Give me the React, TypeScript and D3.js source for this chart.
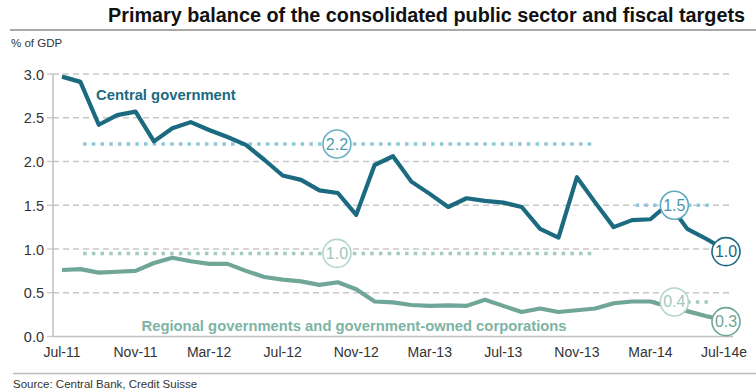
import React from "react";
import * as d3 from "d3";

const months = d3.range(37);
const tickIdx = [0, 4, 8, 12, 16, 20, 24, 28, 32, 36];
const tickLabels = ["Jul-11", "Nov-11", "Mar-12", "Jul-12", "Nov-12", "Mar-13", "Jul-13", "Nov-13", "Mar-14", "Jul-14e"];
const yTicks = [0, 0.5, 1.0, 1.5, 2.0, 2.5, 3.0];

const central = [2.97, 2.91, 2.42, 2.53, 2.57, 2.23, 2.38, 2.45, 2.36, 2.28, 2.19, 2.02, 1.84, 1.79, 1.67, 1.64, 1.39, 1.96, 2.06, 1.77, 1.63, 1.48, 1.58, 1.55, 1.53, 1.48, 1.23, 1.13, 1.82, 1.53, 1.25, 1.33, 1.34, 1.52, 1.23, 1.12, 1.0];
const regional = [0.76, 0.77, 0.73, 0.74, 0.75, 0.84, 0.9, 0.86, 0.83, 0.83, 0.75, 0.68, 0.65, 0.63, 0.59, 0.62, 0.54, 0.4, 0.39, 0.36, 0.35, 0.355, 0.35, 0.42, 0.35, 0.28, 0.32, 0.28, 0.3, 0.32, 0.38, 0.4, 0.4, 0.34, 0.29, 0.235, 0.19];

// fiscal targets: [start month, end month, value, label, label month]
const centralTargets = [
  { x0: 1.15, x1: 28.8, v: 2.2, label: "2.2", lx: 14.95 },
  { x0: 31.2, x1: 35.3, v: 1.5, label: "1.5", lx: 33.3 },
];
const regionalTargets = [
  { x0: 1.15, x1: 28.8, v: 0.95, label: "1.0", lx: 14.95 },
  { x0: 32.1, x1: 35.2, v: 0.395, label: "0.4", lx: 33.3 },
];
const endLabels = [
  { v: 0.97, label: "1.0", series: "central" },
  { v: 0.17, label: "0.3", series: "regional" },
];

const W = 756;
const H = 392;
const FONT = "'Liberation Sans', Arial, sans-serif";
const C_CENTRAL = "#1b6a80";
const C_REGIONAL = "#6fa697";
const C_CT = "#8ec8da";
const C_RT = "#a3cbbd";

export default function App() {
  const x = d3.scaleLinear().domain([0, 36]).range([62, 724]);
  const y = d3.scaleLinear().domain([0, 3]).range([336.5, 74]);
  const line = d3
    .line<number>()
    .x((_, i) => x(months[i]))
    .y((d) => y(d))
    .curve(d3.curveLinear);

  const circle = (cx: number, cy: number, label: string, stroke: string, text: string, key: string) => (
    <g key={key}>
      <circle cx={cx} cy={cy} r={14} fill="#fff" stroke={stroke} strokeWidth={1.6} />
      <text x={cx} y={cy + 5.5} textAnchor="middle" fontSize={16} fill={text} fontFamily={FONT}>
        {label}
      </text>
    </g>
  );

  return (
    <svg width={W} height={H} style={{ position: "absolute", left: 0, top: 0, background: "#fff" }}>
      <text
        x={108}
        y={22}
        fontSize={20}
        fontWeight="bold"
        fill="#111"
        fontFamily={FONT}
        textLength={637}
        lengthAdjust="spacingAndGlyphs"
      >
        Primary balance of the consolidated public sector and fiscal targets
      </text>
      <line x1={10} x2={756} y1={30} y2={30} stroke="#a9a9a9" strokeWidth={2} />
      <text x={11} y={47} fontSize={11.5} fill="#333" fontFamily={FONT}>
        % of GDP
      </text>

      {/* grid */}
      {yTicks.map((t) => (
        <g key={t}>
          {t > 0 && (
            <line x1={53} x2={732} y1={y(t)} y2={y(t)} stroke="#c8c8c8" strokeWidth={1.3} strokeDasharray="6 4" />
          )}
          <line x1={47} x2={53} y1={y(t)} y2={y(t)} stroke="#c8c8c8" strokeWidth={1.3} />
          <text x={44} y={y(t) + 5.5} textAnchor="end" fontSize={14.5} fill="#333" fontFamily={FONT}>
            {t.toFixed(1)}
          </text>
        </g>
      ))}
      <line x1={53} x2={53} y1={y(3)} y2={y(0)} stroke="#c0c0c0" strokeWidth={1.5} />
      <line x1={53} x2={733} y1={y(0)} y2={y(0)} stroke="#c0c0c0" strokeWidth={1.5} />

      {tickIdx.map((m, i) => (
        <text key={m} x={x(m)} y={357} textAnchor="middle" fontSize={14} fill="#333" fontFamily={FONT}>
          {tickLabels[i]}
        </text>
      ))}

      {/* targets */}
      {centralTargets.map((t, i) => (
        <line key={"ct" + i} x1={x(t.x0)} x2={x(t.x1)} y1={y(t.v)} y2={y(t.v)} stroke={C_CT} strokeWidth={3.5} strokeDasharray="3.5 5.2" />
      ))}
      {regionalTargets.map((t, i) => (
        <line key={"rt" + i} x1={x(t.x0)} x2={x(t.x1)} y1={y(t.v)} y2={y(t.v)} stroke={C_RT} strokeWidth={3.5} strokeDasharray="3.5 5.2" />
      ))}

      {/* series */}
      <path d={line(regional) || ""} fill="none" stroke={C_REGIONAL} strokeWidth={4.2} strokeLinejoin="round" />
      <path d={line(central) || ""} fill="none" stroke={C_CENTRAL} strokeWidth={4.2} strokeLinejoin="round" />

      {/* target labels */}
      {circle(x(centralTargets[0].lx), y(centralTargets[0].v), centralTargets[0].label, "#6aafc6", "#4f9bb4", "c0")}
      {circle(x(regionalTargets[0].lx), y(regionalTargets[0].v), regionalTargets[0].label, "#b5d6cb", "#9fc5b9", "r0")}
      {circle(x(centralTargets[1].lx), y(centralTargets[1].v), centralTargets[1].label, "#5fa8c0", "#4a95ae", "c1")}
      {circle(x(regionalTargets[1].lx), y(regionalTargets[1].v), regionalTargets[1].label, "#b3d5ca", "#a3c9bd", "r1")}
      {endLabels.map((e) =>
        circle(
          x(36) + 2,
          y(e.v),
          e.label,
          e.series === "central" ? C_CENTRAL : C_REGIONAL,
          e.series === "central" ? C_CENTRAL : C_REGIONAL,
          "e" + e.label
        )
      )}

      <text x={96} y={100} fontSize={14.8} fontWeight="bold" fill={C_CENTRAL} fontFamily={FONT}>
        Central government
      </text>
      <text x={141.5} y={330.5} fontSize={14.8} fontWeight="bold" fill="#7db4a5" fontFamily={FONT}>
        Regional governments and government-owned corporations
      </text>

      <line x1={13} x2={756} y1={373.5} y2={373.5} stroke="#bdbdbd" strokeWidth={1.5} />
      <text x={13} y={388} fontSize={11.5} fill="#333" fontFamily={FONT}>
        Source: Central Bank, Credit Suisse
      </text>
    </svg>
  );
}
